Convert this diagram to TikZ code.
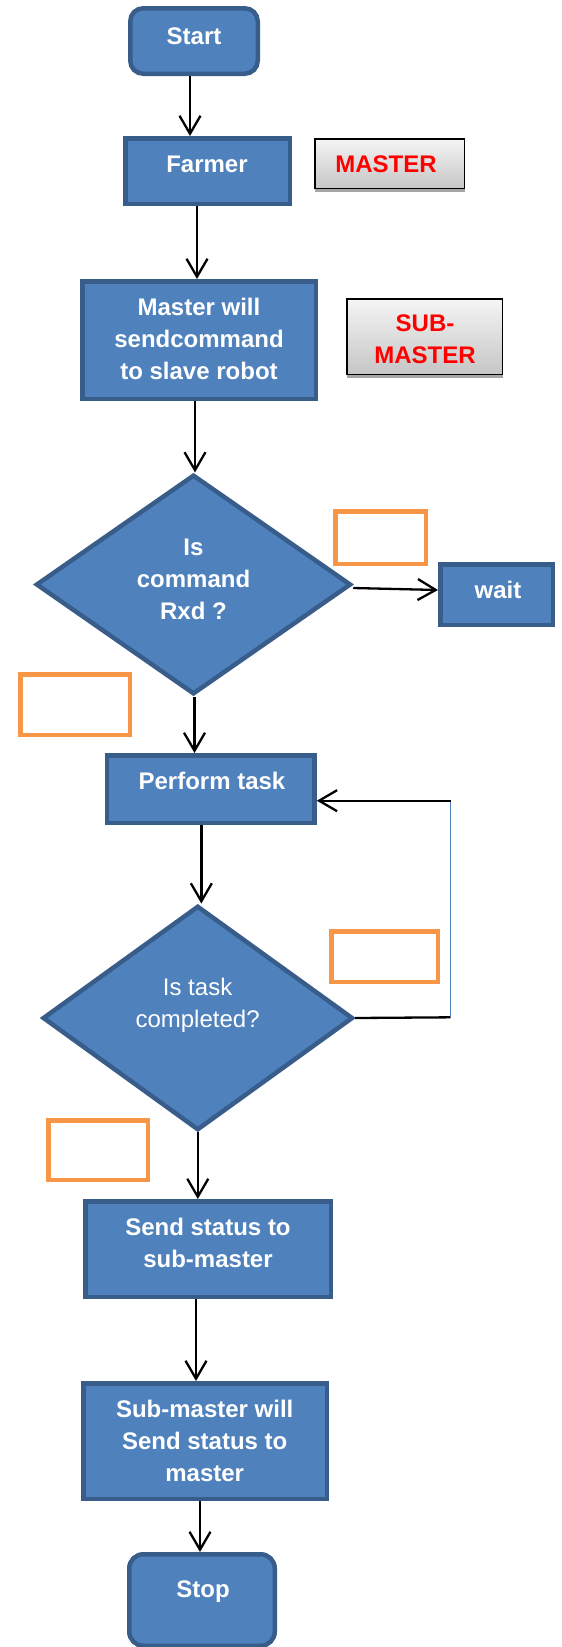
\documentclass[tikz,border=0pt]{standalone}
\usepackage{fontspec}
\setmainfont{Liberation Sans}
\usetikzlibrary{arrows.meta,shapes.geometric,shadows}

\definecolor{boxfill}{HTML}{4F81BD}
\definecolor{boxline}{HTML}{385D8A}
\definecolor{tagline}{HTML}{F79646}
\definecolor{rolered}{HTML}{FF0000}

\tikzset{
  proc/.style={draw=boxline, fill=boxfill, line width=4.5pt, inner sep=0pt},
  term/.style={proc, rounded corners=13pt},
  decide/.style={proc, diamond, inner sep=0pt},
  role/.style={draw=black, line width=1.5pt, top color=gray!8, bottom color=gray!45,
    drop shadow={shadow xshift=0.5pt, shadow yshift=-3.5pt, fill=black!35, opacity=1}},
  tag/.style={draw=tagline, line width=4.5pt, fill=white},
  % multi-line labels are placed by the baseline of their last line
  lbl/.style={text=white, font=\bfseries\fontsize{24}{31.7}\selectfont, align=center, anchor=base, inner sep=0pt},
  lblthin/.style={lbl, font=\fontsize{24}{32}\selectfont},
  rolelbl/.style={lbl, text=rolered},
  flow/.style={draw=black, line width=2.3pt, -{Straight Barb[length=18pt,width=21pt,line width=2.3pt]}},
  plain/.style={draw=black, line width=2.3pt},
  backline/.style={draw=boxfill, line width=1pt}
}

\begin{document}
\begin{tikzpicture}[x=1pt, y=-1pt]
\useasboundingbox (0,0) rectangle (562,1647);

% flow boxes
\node[term, minimum width=127.5pt, minimum height=65.5pt] (start) at (194,41) {};
\node[proc, minimum width=164.5pt, minimum height=65.5pt] (farmer) at (207.5,171) {};
\node[proc, minimum width=233.5pt, minimum height=117.5pt] (send) at (199,340) {};
\node[decide, minimum width=315pt, minimum height=219.6pt] (rxd) at (193.5,584.5) {};
\node[proc, minimum width=112.5pt, minimum height=60.5pt] (wait) at (496.5,594.5) {};
\node[proc, minimum width=207.6pt, minimum height=67.5pt] (perform) at (210.75,789) {};
\node[decide, minimum width=310.3pt, minimum height=224.4pt] (done) at (197.8,1018) {};
\node[proc, minimum width=245.5pt, minimum height=95.5pt] (status) at (208,1249) {};
\node[proc, minimum width=243.5pt, minimum height=115.5pt] (relay) at (205,1441) {};
\node[term, rounded corners=14pt, minimum width=145.5pt, minimum height=91.5pt] (stop) at (202,1600) {};

% role tags
\node[role, minimum width=149.5pt, minimum height=49.5pt] (master) at (389.5,163.5) {};
\node[role, minimum width=155.5pt, minimum height=75.5pt] (submaster) at (424.5,336.5) {};

% empty orange label frames
\node[tag, minimum width=90.5pt, minimum height=52.5pt] (tagA) at (380.5,537.5) {};
\node[tag, minimum width=109.5pt, minimum height=60.5pt] (tagB) at (75,704.5) {};
\node[tag, minimum width=106.5pt, minimum height=50.5pt] (tagC) at (384.5,956.5) {};
\node[tag, minimum width=99.5pt, minimum height=59.5pt] (tagD) at (98,1150) {};

% texts
\node[lbl] (start-t) at (194,44) {Start};
\node[lbl] (farmer-t) at (207,172) {Farmer};
\node[lbl] (send-t) at (199,379) {Master will\\sendcommand\\to slave robot};
\node[lbl] (rxd-t) at (193.5,619) {Is\\command\\Rxd ?};
\node[lbl] (wait-t) at (498,598) {wait};
\node[lbl] (perform-t) at (212,789) {Perform task};
\node[lblthin] (done-t) at (197.6,1027) {Is task\\completed?};
\node[lbl] (status-t) at (208,1267) {Send status to\\sub-master};
\node[lbl] (relay-t) at (204.7,1481) {Sub-master will\\Send status to\\master};
\node[lbl] (stop-t) at (203,1597) {Stop};
\node[rolelbl] (master-t) at (386,172) {MASTER};
\node[rolelbl] (submaster-t) at (425,363) {SUB-\\MASTER};

% loop-back corners
\coordinate (loopB) at (450.7,1017.3);
\coordinate (loopT) at (450.7,800.7);

% connectors
\draw[flow] ([xshift=-4pt]start.south) -- ([xshift=-4pt]start.south |- farmer.north);
\draw[flow] ([xshift=-10.5pt]farmer.south) -- ([xshift=-10.5pt]farmer.south |- send.north);
\draw[flow] ([xshift=-4pt]send.south) -- ([xshift=-4pt]send.south |- rxd.north);
\draw[flow] ([yshift=-3.5pt]rxd.east) -- ([yshift=4.5pt]wait.west);
\draw[flow] ([xshift=1pt]rxd.south) -- ([xshift=1pt]rxd.south |- perform.north);
\draw[flow] ([xshift=-9.4pt]perform.south) -- ([xshift=-9.4pt]perform.south |- done.north);
\draw[flow] (done.south) -- (done.south |- status.north);
\draw[flow] ([xshift=-12pt]status.south) -- ([xshift=-12pt]status.south |- relay.north);
\draw[flow] ([xshift=-5pt]relay.south) -- ([xshift=-5pt]relay.south |- stop.north);
\draw[plain] (done.east) -- (loopB);
\draw[backline] (loopB) -- (loopT);
\draw[flow] (loopT) -- (perform.east |- loopT);
\end{tikzpicture}
\end{document}
